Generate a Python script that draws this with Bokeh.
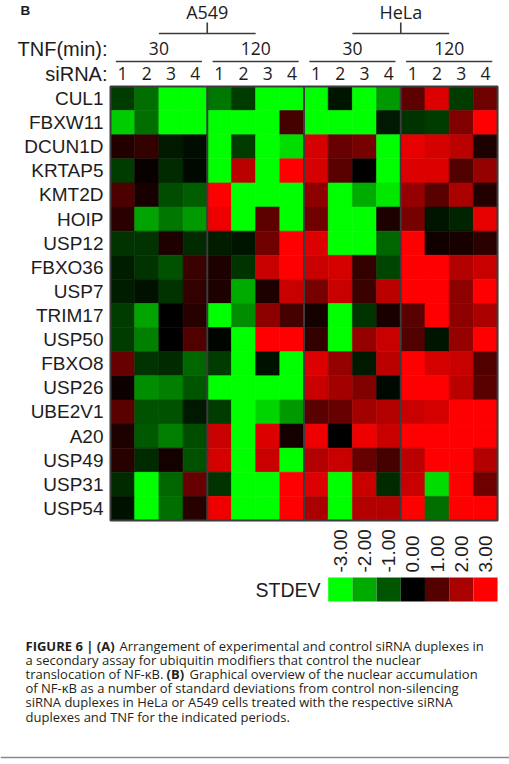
import numpy as np
from bokeh.plotting import figure
from bokeh.models import Range1d, ColumnDataSource, LinearColorMapper
from bokeh.transform import transform
from bokeh.core.properties import value
from bokeh.embed import file_html
from bokeh.resources import INLINE

# ---------------- data ----------------
genes = ["CUL1", "FBXW11", "DCUN1D", "KRTAP5", "KMT2D", "HOIP", "USP12", "FBXO36", "USP7",
         "TRIM17", "USP50", "FBXO8", "USP26", "UBE2V1", "A20", "USP49", "USP31", "USP54"]
cell_lines = ["A549", "HeLa"]
tnf_times = ["30", "120", "30", "120"]
sirnas = ["1", "2", "3", "4"]

# STDEV values, one row per gene, columns = siRNA 1..4
A549_30 = [
    [-0.7, -1.3, -3.0, -3.0], [-2.4, -1.3, -3.0, -3.0], [0.4, 0.6, -0.3, -0.15], [-0.7, 0.1, -0.5, -0.1],
    [0.9, 0.3, -0.9, -1.1], [0.5, -1.9, -1.4, -1.8], [-0.6, -0.6, 0.35, -0.5], [-0.35, -0.6, -0.95, 0.7],
    [-0.35, -0.2, -0.6, 0.6], [-0.7, -1.9, 0.0, 0.45], [-0.7, -1.5, 0.0, 0.95], [1.2, -0.6, -0.5, -1.2],
    [0.15, -1.65, -1.5, -1.0], [1.05, -0.95, -0.95, -0.3], [0.35, -1.05, -1.5, -0.9], [0.45, -0.5, 0.25, -0.95],
    [-0.5, -3.0, -1.2, 1.2], [-0.2, -3.0, -1.3, 0.45]]
A549_120 = [
    [-1.4, -0.7, -3.0, -3.0], [-3.0, -3.0, -3.0, 0.8], [-3.0, -0.7, -3.0, -2.6], [-3.0, 2.2, -3.0, 3.0],
    [3.0, -3.0, -3.0, -3.0], [2.8, -3.0, 1.1, -3.0], [-0.35, -0.25, 1.3, 3.0], [0.35, -0.6, 2.35, 3.0],
    [0.35, -2.0, 0.35, 2.35], [-3.0, -1.65, 1.65, 0.8], [-0.05, -3.0, 3.0, 3.0], [-0.7, -3.0, -0.2, -3.0],
    [-3.0, -3.0, -3.0, -3.0], [-0.7, -3.0, -2.5, -1.8], [2.35, -3.0, 2.6, 0.25], [2.5, -3.0, 2.35, -3.0],
    [-0.6, -3.0, -3.0, 3.0], [2.8, -3.0, -3.0, 3.0]]
HELA_30 = [
    [-3.0, -0.25, -3.0, -1.8], [-3.0, -3.0, -3.0, -0.3], [2.5, 1.2, 1.4, -3.0], [2.5, 1.05, 0.0, -3.0],
    [1.65, -3.0, -2.0, -2.7], [1.3, -3.0, -3.0, 0.35], [2.6, -3.0, -3.0, -1.2], [2.35, 2.5, 0.6, -0.8],
    [1.4, 2.35, 0.7, 2.2], [0.25, -3.0, -0.6, 0.3], [0.6, -3.0, 1.75, 2.35], [2.6, 1.75, -0.3, 2.2],
    [2.35, 1.9, 1.5, -0.1], [1.05, 1.2, 1.9, 2.1], [2.8, 0.0, 2.8, 2.35], [2.1, 2.35, 1.2, 0.8],
    [2.6, -3.0, 2.35, -0.5], [2.0, -3.0, 2.1, 2.1]]
HELA_120 = [
    [1.1, 2.6, -0.7, 1.3], [-0.6, -0.7, 1.5, 3.0], [2.7, 2.5, 2.2, 0.35], [2.6, 2.6, 0.95, 1.75],
    [1.75, 1.05, 2.0, 0.4], [1.4, -0.25, -0.4, 2.7], [3.0, 0.2, 0.3, 0.5], [3.0, 3.0, 2.1, 2.35],
    [3.0, 3.0, 1.65, 3.0], [1.05, 3.0, 1.65, 2.0], [0.95, -0.25, 1.75, 3.0], [3.0, 2.5, 2.35, 0.95],
    [3.0, 3.0, 2.2, 1.05], [2.35, 2.5, 3.0, 3.0], [3.0, 3.0, 3.0, 3.0], [2.2, 3.0, 3.0, 2.1],
    [2.35, -2.6, 3.0, 1.3], [3.0, -1.3, 3.0, 3.0]]

legend_values = [-3, -2, -1, 0, 1, 2, 3]
legend_labels = ["-3.00", "-2.00", "-1.00", "0.00", "1.00", "2.00", "3.00"]
legend_title = "STDEV"

caption_lines = [
    [("FIGURE 6 | (A)", "bold", 25), ("Arrangement of experimental and control siRNA duplexes in", "normal", 119)],
    [("a secondary assay for ubiquitin modifiers that control the nuclear", "normal", 25)],
    [("translocation of NF-\u03baB.", "normal", 25), ("(B)", "bold", 166),
     ("Graphical overview of the nuclear accumulation", "normal", 189)],
    [("of NF-\u03baB as a number of standard deviations from control non-silencing", "normal", 25)],
    [("siRNA duplexes in HeLa or A549 cells treated with the respective siRNA", "normal", 25)],
    [("duplexes and TNF for the indicated periods.", "normal", 25)],
]

# ---------------- layout (page pixels) ----------------
W, H = 509, 764
LEFT, TOP = 110, 86          # heatmap top-left on the page
CW, CH = 24.19, 24.11        # cell size in px


def ux(px):
    return (px - LEFT) / CW


def uy(py):
    return (py - TOP) / CH


TXT = "#1e1c1c"
LINE = "#3c3c3c"

p = figure(width=W, height=H, x_range=Range1d(ux(0), ux(W)), y_range=Range1d(uy(H), uy(0)),
           output_backend="svg", toolbar_location=None, min_border=0,
           x_axis_location=None, y_axis_location=None, outline_line_color=None)
p.grid.visible = False
p.background_fill_color = "white"
p.border_fill_color = "white"

# palette green -> black -> red
pal = []
for i in range(256):
    t = i / 255 * 2 - 1
    if t < 0:
        pal.append("#00%02x00" % round(-t * 255))
    else:
        pal.append("#%02x0000" % round(t * 255))
mapper = LinearColorMapper(palette=pal, low=-3, high=3)

# ---------------- heatmap ----------------
xs, ys, vs = [], [], []
groups = [A549_30, A549_120, HELA_30, HELA_120]
for g, grp in enumerate(groups):
    for r, row in enumerate(grp):
        for s, v in enumerate(row):
            xs.append(4 * g + s + 0.5)
            ys.append(r + 0.5)
            vs.append(v)
src = ColumnDataSource(dict(x=xs, y=ys, v=vs))
p.rect("x", "y", width=1, height=1, source=src, fill_color=transform("v", mapper),
       line_color=transform("v", mapper), line_width=0.6)

ncol = 4 * len(groups)
nrow = len(genes)
# frame and group separators
p.rect(x=ncol / 2, y=nrow / 2, width=ncol, height=nrow, fill_color=None, line_color=LINE, line_width=2)
p.segment(x0=[4, 8, 12], y0=[0] * 3, x1=[4, 8, 12], y1=[nrow] * 3, line_color=LINE, line_width=2)

# row labels
p.text(x=[ux(103)] * nrow, y=[r + 0.5 for r in range(nrow)], text=genes, text_align="right",
       text_baseline="middle", text_font=value("Liberation Sans"), text_font_size="19px", text_color=TXT)

# ---------------- header ----------------
y_cl = uy(11.5)
y_br = uy(33)
y_tick = uy(22)
y_time = uy(48)
y_ul = uy(61)
y_num = uy(73)

p.text(x=[8 * k + 4 for k in range(2)], y=[y_cl] * 2, text=cell_lines, text_align="center",
       text_baseline="middle", text_font=value("Open Sans"), text_font_size="18px", text_color=TXT)
p.segment(x0=[8 * k + 2 for k in range(2)], y0=[y_br] * 2, x1=[8 * k + 6 for k in range(2)], y1=[y_br] * 2,
          line_color=LINE, line_width=1.6)
p.segment(x0=[8 * k + 4 for k in range(2)], y0=[y_tick] * 2, x1=[8 * k + 4 for k in range(2)], y1=[y_br] * 2,
          line_color=LINE, line_width=1.6)

p.text(x=[4 * g + 2 for g in range(4)], y=[y_time] * 4, text=tnf_times, text_align="center",
       text_baseline="middle", text_font=value("Open Sans"), text_font_size="17.5px", text_color=TXT)
p.segment(x0=[4 * g + 0.22 for g in range(4)], y0=[y_ul] * 4, x1=[4 * g + 3.78 for g in range(4)], y1=[y_ul] * 4,
          line_color=LINE, line_width=1.6)
p.text(x=[c + 0.5 for c in range(ncol)], y=[y_num] * ncol, text=sirnas * 4, text_align="center",
       text_baseline="middle", text_font=value("Open Sans"), text_font_size="17.5px", text_color=TXT)

p.text(x=[ux(107)] * 2, y=[y_time, y_num], text=["TNF(min):", "siRNA:"], text_align="right",
       text_baseline="middle", text_font=value("Liberation Sans"), text_font_size="20px", text_color=TXT)

p.text(x=[ux(20)], y=[uy(9.5)], text=["B"], text_align="left", text_baseline="middle",
       text_font=value("Liberation Sans"), text_font_style="bold", text_font_size="13.5px", text_color=TXT)

# ---------------- colour key ----------------
nk = len(legend_values)
lx = [ncol - nk + k + 0.5 for k in range(nk)]
ly_c = (uy(577) + uy(601)) / 2
p.rect(x=lx, y=[ly_c] * nk, width=1, height=uy(601) - uy(577),
       fill_color=[pal[round((v + 3) / 6 * 255)] for v in legend_values], line_color=None)
p.text(x=lx, y=[uy(572)] * nk, text=legend_labels, angle=np.pi / 2, text_align="left",
       text_baseline="middle", text_font=value("Liberation Sans"), text_font_size="19px", text_color=TXT)
p.text(x=[ux(320)], y=[ly_c], text=[legend_title], text_align="right", text_baseline="middle",
       text_font=value("Liberation Sans"), text_font_size="19.5px", text_color=TXT)

# ---------------- caption ----------------
for li, line in enumerate(caption_lines):
    ycap = uy(645 + 14.2 * li)
    for (txt, style, xp) in line:
        p.text(x=[ux(xp)], y=[ycap], text=[txt], text_align="left", text_baseline="middle",
               text_font=value("Open Sans"), text_font_style=style, text_font_size="13px",
               text_color="#231f20")
p.segment(x0=[ux(0)], y0=[uy(757)], x1=[ux(W)], y1=[uy(757)], line_color="#8a8a8a", line_width=1.5)

open("out.html", "w").write(file_html(p, INLINE))
